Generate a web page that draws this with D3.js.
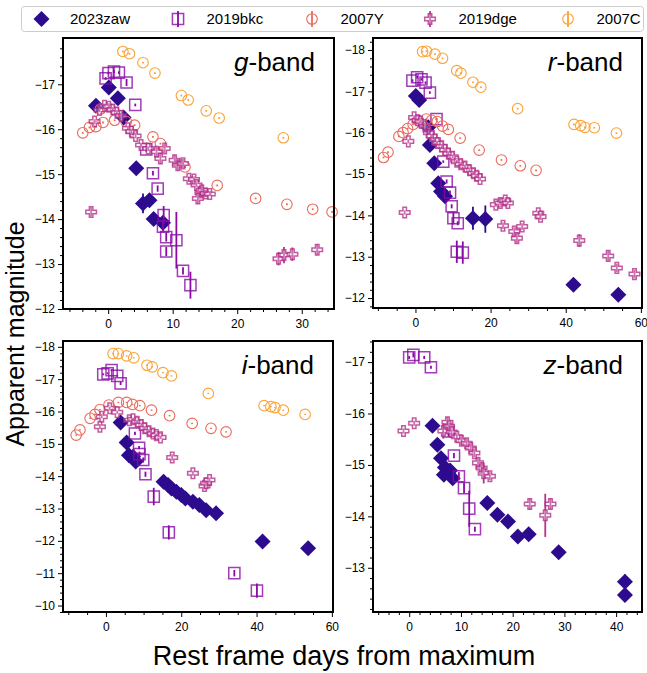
<!DOCTYPE html>
<html>
<head>
<meta charset="utf-8">
<script src="https://cdn.jsdelivr.net/npm/d3@7"></script>
<style>
  body { margin: 0; background: #fff; }
  text { font-family: "Liberation Sans", Arial, sans-serif; }
</style>
</head>
<body>
<div id="chart"></div>
<script>
// supernovae, legend order
const snNames = ["2023zaw", "2019bkc", "2007Y", "2019dge", "2007C"];
const snColors = ["#2c0b8e", "#8a0aa5", "#ea6a5b", "#b5338a", "#fca236"];
const bandNames = ["g", "r", "i", "z"];

// [days, magnitude, error]
const zaw_g = [[-1.9,-16.52,0.03],[0.1,-16.93,0.03],[1.5,-16.69,0.03],[2.4,-16.26,0.03],[4.35,-15.13,0.03],
  [5.4,-14.35,0.22],[6.4,-14.42,0.05],[7.05,-14.0,0.05],[8.5,-13.92,0.15]];
const bkc_g = [[-0.4,-17.13,0.03],[0.05,-17.25,0.03],[0.9,-17.28,0.03],[1.66,-17.26,0.03],[2.85,-17.04,0.08],
  [4.2,-16.54,0.03],[5.9,-15.55,0.05],[6.94,-15.02,0.05],[7.67,-14.68,0.07],[8.6,-14.09,0.2],[8.5,-13.83,0.1],
  [9.0,-13.6,0.1],[10.57,-13.53,0.63],[9.0,-13.28,0.1],[11.6,-12.85,0.08],[12.75,-12.53,0.3]];
const y07_g = [[-3.94,-15.92,0.02],[-2.9,-16.04,0.02],[-1.9,-16.06,0.02],[-0.8,-16.15,0.02],[-1.2,-16.45,0.02],
  [1.0,-16.2,0.02],[2.8,-16.17,0.02],[4.1,-16.09,0.02],[6.94,-15.83,0.02],[8.1,-15.68,0.02],[11.9,-15.16,0.02],
  [16.9,-14.75,0.02],[22.85,-14.46,0.02],[27.7,-14.33,0.02],[31.7,-14.22,0.02],[34.7,-14.16,0.02]];
const dge_g = [[-2.64,-14.16,0.1],[-2.1,-16.17,0.05],[-1.35,-16.43,0.05],[-0.57,-16.52,0.05],[0.1,-16.5,0.05],
  [0.73,-16.44,0.05],[1.35,-16.37,0.05],[2.0,-16.3,0.05],[3.06,-16.02,0.05],[3.6,-15.95,0.05],[4.25,-15.85,0.05],
  [5.1,-15.65,0.05],[6.2,-15.57,0.05],[7.5,-15.5,0.1],[8.1,-15.35,0.12],[8.76,-15.57,0.1],[10.3,-15.31,0.12],
  [10.8,-15.2,0.12],[11.6,-15.24,0.1],[12.5,-14.9,0.05],[13.3,-14.88,0.05],[13.7,-14.76,0.05],[14.3,-14.59,0.12],
  [14.5,-14.64,0.12],[15.1,-14.57,0.08],[15.75,-14.56,0.05],[13.9,-14.46,0.12],[26.4,-13.12,0.15],
  [27.25,-13.2,0.18],[28.55,-13.22,0.15],[32.4,-13.32,0.12]];
const c07_g = [[2.28,-17.73,0.02],[3.3,-17.68,0.02],[5.4,-17.48,0.02],[7.25,-17.25,0.02],[11.35,-16.75,0.02],
  [12.4,-16.65,0.02],[15.2,-16.41,0.02],[17.2,-16.25,0.02],[27.15,-15.81,0.02]];

const zaw_r = [[0.1,-16.89,0.03],[1.0,-16.79,0.03],[3.4,-16.13,0.03],[3.84,-15.7,0.03],[5.0,-15.26,0.03],
  [6.07,-14.78,0.03],[6.8,-14.58,0.03],[7.86,-14.46,0.03],[15.3,-13.93,0.28],[18.6,-13.91,0.33],
  [42.05,-12.32,0.03],[54.0,-12.08,0.03]];
const bkc_r = [[-0.8,-17.26,0.03],[0.45,-17.34,0.03],[1.6,-17.29,0.03],[2.68,-17.21,0.03],[3.84,-16.97,0.03],
  [5.6,-16.33,0.03],[7.4,-15.3,0.03],[8.3,-14.82,0.05],[9.2,-14.55,0.05],[9.64,-14.22,0.05],[10.1,-13.93,0.15],
  [11.25,-13.81,0.05],[11.0,-13.12,0.27],[12.6,-13.1,0.27]];
const y07_r = [[-8.5,-15.4,0.02],[-7.3,-15.53,0.02],[-4.4,-15.91,0.02],[-3.3,-16.0,0.02],[-2.1,-16.1,0.02],
  [-0.6,-16.2,0.02],[0.7,-16.3,0.02],[2.9,-16.33,0.02],[4.3,-16.3,0.02],[5.8,-16.27,0.02],[7.2,-16.16,0.02],
  [8.75,-16.08,0.02],[11.9,-15.87,0.02],[16.96,-15.58,0.02],[22.9,-15.34,0.02],[27.9,-15.2,0.02],[32.1,-15.09,0.02]];
const dge_r = [[-2.86,-14.07,0.05],[-1.9,-15.79,0.05],[-0.36,-16.37,0.05],[0.6,-16.3,0.05],[1.3,-16.27,0.05],
  [2.5,-16.15,0.05],[3.6,-16.0,0.05],[4.3,-15.92,0.05],[5.2,-15.83,0.05],[5.8,-15.75,0.05],[7.0,-15.67,0.05],
  [7.86,-15.58,0.05],[8.75,-15.49,0.05],[9.9,-15.42,0.05],[11.0,-15.3,0.05],[12.05,-15.24,0.05],[13.2,-15.18,0.05],
  [14.4,-15.09,0.05],[15.45,-15.02,0.05],[16.3,-14.96,0.05],[17.2,-14.88,0.05],[21.4,-14.26,0.05],[22.6,-14.3,0.05],
  [23.9,-14.36,0.05],[24.6,-14.3,0.05],[23.3,-13.75,0.08],[26.3,-13.61,0.1],[27.0,-13.45,0.12],[28.4,-13.73,0.08],
  [32.7,-14.05,0.05],[33.3,-13.97,0.08],[43.6,-13.39,0.15],[51.3,-13.02,0.12],[53.6,-12.73,0.1],[58.3,-12.58,0.1]];
const c07_r = [[1.9,-17.96,0.02],[2.95,-17.97,0.02],[5.2,-17.9,0.02],[7.2,-17.8,0.02],[11.0,-17.5,0.02],
  [12.1,-17.44,0.02],[15.3,-17.22,0.02],[17.4,-17.1,0.02],[27.2,-16.58,0.02],[42.2,-16.2,0.02],[44.0,-16.17,0.02],
  [45.1,-16.13,0.02],[47.6,-16.12,0.02],[53.5,-15.99,0.02]];

const zaw_i = [[3.9,-15.66,0.03],[5.5,-15.04,0.03],[6.1,-14.65,0.03],[7.2,-14.6,0.03],[7.9,-14.45,0.03],
  [15.3,-13.83,0.03],[16.5,-13.73,0.03],[17.4,-13.62,0.03],[18.7,-13.52,0.03],[20.0,-13.42,0.03],
  [21.1,-13.31,0.03],[23.1,-13.21,0.03],[24.8,-13.11,0.03],[26.6,-12.95,0.03],[29.25,-12.85,0.03],
  [41.6,-11.98,0.03],[53.7,-11.77,0.03]];
const bkc_i = [[-0.7,-17.15,0.03],[0.45,-17.18,0.03],[1.5,-17.28,0.03],[3.0,-17.1,0.03],[3.9,-16.87,0.05],
  [7.7,-15.32,0.05],[8.8,-14.88,0.05],[8.9,-14.68,0.08],[9.9,-14.5,0.08],[10.5,-14.06,0.08],[12.7,-13.37,0.27],
  [16.7,-12.26,0.22],[34.1,-11.0,0.1],[40.1,-10.46,0.22]];
const y07_i = [[-7.9,-15.27,0.02],[-6.9,-15.43,0.02],[-4.2,-15.79,0.02],[-2.9,-15.91,0.02],[-1.6,-16.06,0.02],
  [0.8,-16.2,0.02],[3.3,-16.28,0.02],[5.5,-16.28,0.02],[7.05,-16.22,0.02],[9.0,-16.18,0.02],[12.1,-16.04,0.02],
  [16.9,-15.87,0.02],[22.9,-15.63,0.02],[27.9,-15.48,0.02],[31.9,-15.37,0.02]];
const dge_i = [[-1.6,-15.53,0.08],[-1.1,-15.84,0.05],[1.0,-16.1,0.05],[3.0,-15.98,0.05],[6.2,-15.73,0.05],
  [7.2,-15.76,0.05],[8.3,-15.68,0.05],[9.4,-15.58,0.05],[10.3,-15.48,0.05],[11.45,-15.39,0.05],[12.5,-15.32,0.05],
  [13.4,-15.27,0.05],[14.5,-15.2,0.05],[17.6,-14.58,0.1],[23.1,-14.09,0.08],[26.2,-13.7,0.1],[26.6,-13.78,0.1],
  [27.5,-13.88,0.08]];
const c07_i = [[1.9,-17.79,0.02],[3.3,-17.79,0.02],[5.5,-17.72,0.02],[7.4,-17.66,0.02],[10.9,-17.43,0.02],
  [12.3,-17.38,0.02],[15.15,-17.2,0.02],[17.4,-17.1,0.02],[27.2,-16.56,0.02],[42.0,-16.18,0.02],[43.8,-16.15,0.02],
  [44.9,-16.12,0.02],[47.1,-16.04,0.02],[52.9,-15.91,0.02]];

const zaw_z = [[4.5,-15.76,0.03],[5.45,-15.39,0.03],[6.15,-15.13,0.03],[6.9,-14.95,0.03],[6.7,-14.81,0.03],
  [7.9,-14.89,0.03],[8.4,-14.74,0.03],[15.1,-14.26,0.03],[17.05,-14.03,0.03],[19.1,-13.9,0.03],[21.0,-13.61,0.03],
  [23.1,-13.65,0.03],[28.9,-13.3,0.03],[41.7,-12.73,0.14],[41.7,-12.47,0.03]];
const bkc_z = [[0.0,-17.09,0.03],[0.8,-17.14,0.05],[2.9,-17.09,0.03],[4.2,-16.9,0.03],[7.6,-15.65,0.1],
  [8.65,-15.18,0.05],[9.6,-14.78,0.08],[10.6,-14.55,0.1],[11.6,-14.15,0.35],[12.7,-13.75,0.05]];
const y07_z = [];
const dge_z = [[-1.1,-15.66,0.05],[0.96,-15.81,0.05],[6.6,-15.66,0.15],[7.4,-15.83,0.1],[7.7,-15.75,0.08],
  [8.2,-15.64,0.05],[9.2,-15.55,0.05],[10.1,-15.47,0.08],[11.1,-15.42,0.08],[11.9,-15.33,0.08],[12.6,-15.23,0.08],
  [13.3,-15.04,0.1],[14.0,-14.94,0.1],[14.4,-14.84,0.2],[15.6,-14.78,0.08],[23.3,-14.24,0.1],[26.3,-14.02,0.42],
  [27.3,-14.24,0.1]];
const c07_z = [];

// axis settings per band
const xDomains = [[-7, 35], [-11.3, 60.3], [-11.4, 60.3], [-7, 45]];
const yDomains = [[-12, -18.03], [-11.76, -18.29], [-9.8, -18.18], [-12.14, -17.41]];
const xTicks = [[0, 10, 20, 30], [0, 20, 40, 60], [0, 20, 40, 60], [0, 10, 20, 30, 40]];
const xMinorStep = [2, 5, 5, 2];
const yTicks = [[-17, -16, -15, -14, -13, -12], [-18, -17, -16, -15, -14, -13, -12],
  [-18, -17, -16, -15, -14, -13, -12, -11, -10], [-17, -16, -15, -14, -13]];

const seriesByBand = [
  [zaw_g, bkc_g, y07_g, dge_g, c07_g],
  [zaw_r, bkc_r, y07_r, dge_r, c07_r],
  [zaw_i, bkc_i, y07_i, dge_i, c07_i],
  [zaw_z, bkc_z, y07_z, dge_z, c07_z]
];

const W = 647, H = 673;
const panels = [
  {x0: 63, x1: 334, y0: 38, y1: 309},
  {x0: 373, x1: 642, y0: 38, y1: 308},
  {x0: 63, x1: 333, y0: 341, y1: 612},
  {x0: 373, x1: 642, y0: 341, y1: 612}
];

const svg = d3.select("#chart").append("svg")
  .attr("width", W).attr("height", H);

const symDiamond = d3.symbol().type(d3.symbolSquare).size(128);
const symSquare = d3.symbol().type(d3.symbolSquare).size(125);
const symCircle = d3.symbol().type(d3.symbolCircle).size(88);
const symCross = d3.symbol().type(d3.symbolCross).size(62);

function drawMarker(g, k, x, y) {
  const c = snColors[k];
  if (k === 0) {
    g.append("path").attr("d", symDiamond())
      .attr("transform", `translate(${x},${y}) rotate(45)`).attr("fill", c);
  } else if (k === 1) {
    g.append("path").attr("d", symSquare()).attr("transform", `translate(${x},${y})`)
      .attr("fill", "none").attr("stroke", c).attr("stroke-width", 1.5).attr("opacity", 0.8);
  } else if (k === 3) {
    g.append("path").attr("d", symCross()).attr("transform", `translate(${x},${y})`)
      .attr("fill", "#fff").attr("fill-opacity", 0.4).attr("stroke", c).attr("stroke-width", 1.5).attr("opacity", 0.8);
  } else {
    g.append("path").attr("d", symCircle()).attr("transform", `translate(${x},${y})`)
      .attr("fill", "none").attr("stroke", c).attr("stroke-width", 1.1);
  }
}

panels.forEach((p, b) => {
  const x = d3.scaleLinear().domain(xDomains[b]).range([p.x0, p.x1]);
  const y = d3.scaleLinear().domain(yDomains[b]).range([p.y1, p.y0]);
  const g = svg.append("g");

  // minor ticks
  const xMinor = d3.range(Math.ceil(xDomains[b][0] / xMinorStep[b]) * xMinorStep[b], xDomains[b][1], xMinorStep[b])
    .filter(v => !xTicks[b].includes(v));
  g.append("g").attr("transform", `translate(0,${p.y1})`)
    .call(d3.axisBottom(x).tickValues(xMinor).tickSize(3).tickFormat(""))
    .call(a => a.select(".domain").remove());
  const yMin = d3.min(yDomains[b]), yMax = d3.max(yDomains[b]);
  const yMinor = d3.range(Math.ceil(yMin * 5), Math.floor(yMax * 5) + 1).map(v => v / 5)
    .filter(v => Math.abs(v - Math.round(v)) > 1e-6);
  g.append("g").attr("transform", `translate(${p.x0},0)`)
    .call(d3.axisLeft(y).tickValues(yMinor).tickSize(3).tickFormat(""))
    .call(a => a.select(".domain").remove());

  // major ticks
  g.append("g").attr("transform", `translate(0,${p.y1})`)
    .call(d3.axisBottom(x).tickValues(xTicks[b]).tickSize(5).tickPadding(5).tickFormat(d3.format("d")))
    .call(a => a.select(".domain").remove())
    .call(a => a.selectAll("text").attr("font-size", 12).attr("fill", "#000"));
  g.append("g").attr("transform", `translate(${p.x0},0)`)
    .call(d3.axisLeft(y).tickValues(yTicks[b]).tickSize(5).tickPadding(3).tickFormat(d3.format("d")))
    .call(a => a.select(".domain").remove())
    .call(a => a.selectAll("text").attr("font-size", 12).attr("fill", "#000"));

  const plot = g.append("g");
  seriesByBand[b].forEach((data, k) => {
    const s = plot.append("g");
    data.forEach(d => {
      s.append("line")
        .attr("x1", x(d[0])).attr("x2", x(d[0]))
        .attr("y1", y(d[1] - d[2])).attr("y2", y(d[1] + d[2]))
        .attr("stroke", snColors[k]).attr("stroke-width", 1.8);
      drawMarker(s, k, x(d[0]), y(d[1]));
    });
  });

  // frame
  g.append("rect").attr("x", p.x0).attr("y", p.y0)
    .attr("width", p.x1 - p.x0).attr("height", p.y1 - p.y0)
    .attr("fill", "none").attr("stroke", "#000").attr("stroke-width", 2);

  // band label
  const t = g.append("text").attr("x", p.x1 - 19).attr("y", p.y0 + 33)
    .attr("text-anchor", "end").attr("font-size", 26);
  t.append("tspan").attr("font-style", "italic").text(bandNames[b]);
  t.append("tspan").text("-band");
});

// axis titles
svg.append("text").attr("x", 344).attr("y", 665).attr("text-anchor", "middle")
  .attr("font-size", 27).text("Rest frame days from maximum");
svg.append("text").attr("transform", "translate(24,334) rotate(-90)").attr("text-anchor", "middle")
  .attr("font-size", 25).text("Apparent magnitude");

// legend
const leg = svg.append("g");
leg.append("rect").attr("x", 21.5).attr("y", 6.5).attr("width", 622).attr("height", 25).attr("rx", 3)
  .attr("fill", "#fff").attr("stroke", "#ccc").attr("stroke-width", 1);
const legX = [41.5, 178, 312, 430, 568];
snNames.forEach((n, k) => {
  if (k > 0) {
    leg.append("line").attr("x1", legX[k]).attr("x2", legX[k]).attr("y1", 11).attr("y2", 27)
      .attr("stroke", snColors[k]).attr("stroke-width", 1.8);
  }
  drawMarker(leg, k, legX[k], 19);
  leg.append("text").attr("x", legX[k] + 28.5).attr("y", 24).attr("font-size", 15).text(n);
});
</script>
</body>
</html>
